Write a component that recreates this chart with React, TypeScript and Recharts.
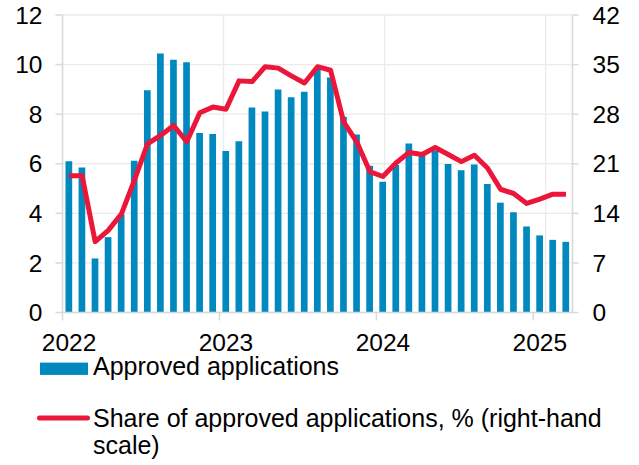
import { Bar, CartesianGrid, ComposedChart, Legend, Line, XAxis, YAxis } from "recharts"

const months = [
  "2022-01", "2022-02", "2022-03", "2022-04", "2022-05", "2022-06",
  "2022-07", "2022-08", "2022-09", "2022-10", "2022-11", "2022-12",
  "2023-01", "2023-02", "2023-03", "2023-04", "2023-05", "2023-06",
  "2023-07", "2023-08", "2023-09", "2023-10", "2023-11", "2023-12",
  "2024-01", "2024-02", "2024-03", "2024-04", "2024-05", "2024-06",
  "2024-07", "2024-08", "2024-09", "2024-10", "2024-11", "2024-12",
  "2025-01", "2025-02", "2025-03",
]

const approved = [
  6.1, 5.85, 2.18, 3.04, 3.95, 6.12, 8.96, 10.45, 10.2, 10.09, 7.24, 7.2,
  6.51, 6.91, 8.27, 8.11, 8.99, 8.68, 8.9, 9.85, 9.48, 7.9, 7.18, 5.92,
  5.27, 5.95, 6.82, 6.35, 6.52, 5.99, 5.74, 5.97, 5.18, 4.43, 4.04, 3.47,
  3.11, 2.93, 2.85,
]

const sharePct = [
  19.3, 19.3, 10.0, 11.6, 13.9, 18.7, 23.8, 25.0, 26.4, 24.1, 28.2, 29.0,
  28.7, 32.7, 32.6, 34.7, 34.5, 33.4, 32.4, 34.7, 34.2, 26.9, 24.1, 19.9,
  19.2, 21.1, 22.6, 22.3, 23.3, 22.3, 21.3, 22.2, 20.4, 17.4, 16.8, 15.4,
  16.0, 16.7, 16.7,
]

// year boundaries, counted in months from Jan 2022
const yearBounds = [12, 24, 36]
const leftTicks = [0, 2, 4, 6, 8, 10, 12]
const rightTicks = [0, 7, 14, 21, 28, 35, 42]

const data = months.map((m, i) => ({ month: m, approved: approved[i], share: sharePct[i] }))

const BLUE = "#0089bf"
const RED = "#eb1639"
const GRID = "#ebebeb"
const AXIS = "#d9d9d9"
const FONT = "'Liberation Sans', Arial, Helvetica, sans-serif"
const FS = 24.5
const LEGEND_FS = 25

const YearTick = (props: any) => {
  const { x, y, payload } = props
  const off = payload?.offset ?? 0
  return (
    <g>
      <line x1={x - off} x2={x - off} y1={y - 21} y2={y - 13} stroke={AXIS} strokeWidth={1.5} />
      <text x={x} y={y} dy="0.72em" textAnchor="middle" fill="#000" fontFamily={FONT} fontSize={FS}>
        {String(payload?.value ?? "").slice(0, 4)}
      </text>
    </g>
  )
}

const LegendContent = () => (
  <div style={{ fontFamily: FONT, fontSize: LEGEND_FS, lineHeight: "27.5px", color: "#000" }}>
    <div style={{ display: "flex", alignItems: "flex-start" }}>
      <svg width={93} height={27.5} style={{ flex: "none" }}>
        <rect x={40} y={9.6} width={48} height={12.3} fill={BLUE} />
      </svg>
      <span style={{ whiteSpace: "nowrap" }}>Approved applications</span>
    </div>
    <div style={{ display: "flex", alignItems: "flex-start", marginTop: 24.3 }}>
      <svg width={93} height={27.5} style={{ flex: "none" }}>
        <line x1={39.5} x2={87.5} y1={13} y2={13} stroke={RED} strokeWidth={5} strokeLinecap="round" />
      </svg>
      <span style={{ whiteSpace: "nowrap" }}>
        Share of approved applications, % (right-hand
        <br />
        scale)
      </span>
    </div>
  </div>
)

export default function App() {
  return (
    <div style={{ position: "absolute", left: 0, top: 0, width: 639, height: 465, background: "#fff" }}>
      <ComposedChart
        width={639}
        height={465}
        data={data}
        margin={{ top: 15, right: 0, left: 0, bottom: 112.5 }}
        barCategoryGap={0}
      >
        <CartesianGrid xAxisId="grid" yAxisId="left" stroke={GRID} strokeWidth={1.3} />
        <XAxis xAxisId="grid" type="number" domain={[0, months.length]} ticks={yearBounds} hide />
        <XAxis
          dataKey="month"
          height={40}
          interval={11}
          tickSize={8}
          tickMargin={13}
          tickLine={false}
          axisLine={{ stroke: AXIS, strokeWidth: 1.5 }}
          tick={YearTick}
        />
        <YAxis
          yAxisId="left"
          width={62.5}
          domain={[0, 12]}
          ticks={leftTicks}
          interval={0}
          tickSize={7}
          tickMargin={13}
          tickLine={{ stroke: AXIS, strokeWidth: 1.5 }}
          axisLine={{ stroke: AXIS, strokeWidth: 1.5 }}
          tick={{ fill: "#000", fontFamily: FONT, fontSize: FS }}
        />
        <YAxis
          yAxisId="right"
          orientation="right"
          width={66.5}
          domain={[0, 42]}
          ticks={rightTicks}
          interval={0}
          tickSize={6}
          tickMargin={14}
          tickLine={{ stroke: AXIS, strokeWidth: 1.5 }}
          axisLine={{ stroke: AXIS, strokeWidth: 1.5 }}
          tick={{ fill: "#000", fontFamily: FONT, fontSize: FS }}
        />
        <Legend
          verticalAlign="middle"
          align="center"
          layout="horizontal"
          content={LegendContent}
          wrapperStyle={{ top: 353, left: 0, width: 639 }}
        />
        <Bar yAxisId="left" dataKey="approved" name="Approved applications" fill={BLUE} barSize={6.7} isAnimationActive={false} />
        <Line
          yAxisId="right"
          type="linear"
          dataKey="share"
          name="Share of approved applications, % (right-hand scale)"
          stroke={RED}
          strokeWidth={5}
          strokeLinejoin="round"
          dot={false}
          activeDot={false}
          isAnimationActive={false}
        />
      </ComposedChart>
    </div>
  )
}
